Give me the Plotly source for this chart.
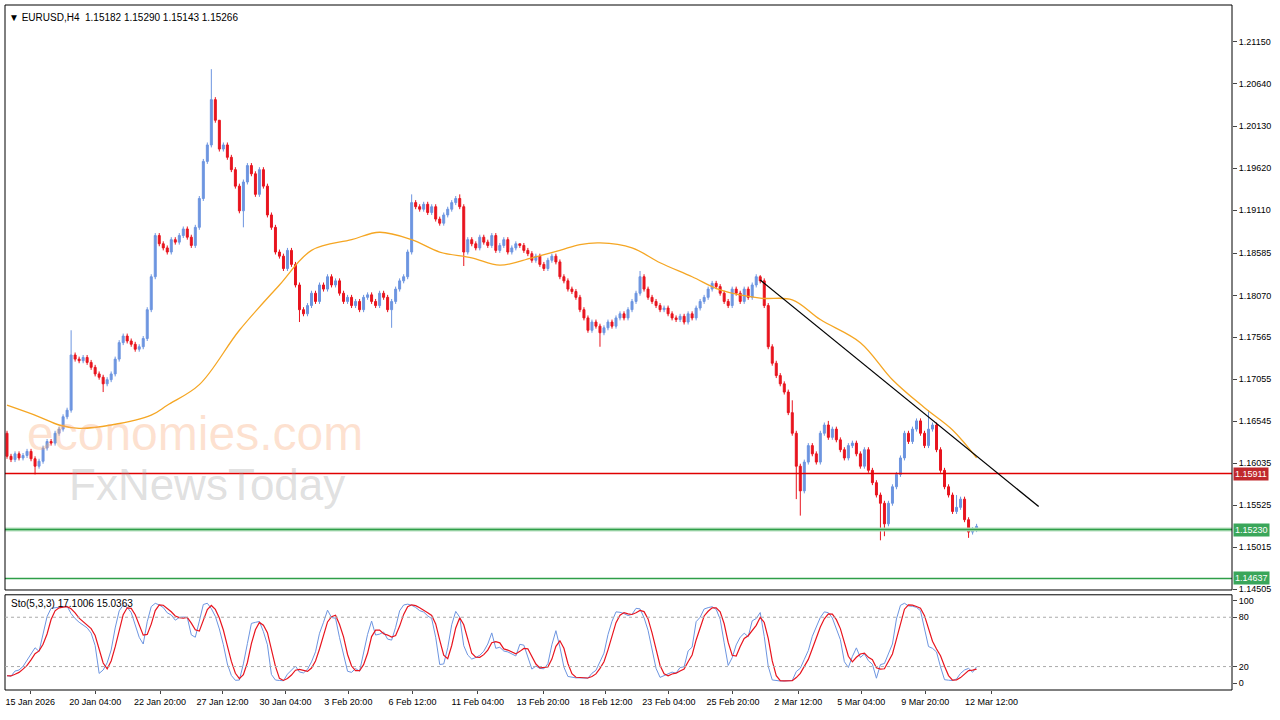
import plotly.graph_objects as go
import numpy as np

closes = [1.1612,1.1608,1.1615,1.1610,1.1613,1.1618,1.1609,1.1600,1.1606,
1.1622,1.1630,1.1628,1.1640,1.1645,1.1660,1.1668,1.1735,
1.1730,1.1728,1.1732,1.1726,1.1720,1.1712,1.1708,1.1700,
1.1705,1.1712,1.1730,1.1750,1.1758,1.1752,
1.1748,1.1742,1.1745,1.1755,1.1790,1.1830,
1.1880,1.1870,
1.1865,1.1860,1.1875,1.1872,1.1880,1.1888,1.1878,1.1868,1.1890,
1.1925,1.1970,1.1990,1.2045,
1.2020,1.1985,1.1990,1.1975,1.1960,1.1940,1.1910,1.1945,
1.1965,1.1955,1.1930,1.1960,1.1940,1.1905,
1.1890,1.1860,1.1855,1.1840,1.1862,1.1845,
1.1820,1.1790,1.1785,
1.1795,1.1810,1.1800,1.1820,1.1815,1.1830,1.1820,1.1825,1.1810,1.1800,1.1805,
1.1795,1.1800,1.1790,1.1805,1.1808,1.1800,1.1795,1.1810,1.1805,1.1790,1.1800,
1.1815,1.1825,1.1830,1.1860,
1.1920,1.1915,1.1912,1.1918,1.1908,1.1915,1.1900,1.1895,1.1905,1.1912,1.1920,1.1925,1.1915,
1.1860,
1.1875,1.1870,1.1865,1.1878,1.1872,1.1868,1.1880,1.1862,1.1868,1.1875,1.1860,1.1865,1.1870,1.1868,
1.1862,1.1858,1.1850,1.1855,1.1845,1.1840,1.1850,1.1855,1.1848,1.1830,
1.1825,1.1815,1.1812,1.1805,1.1790,1.1780,1.1765,1.1775,1.1770,1.1762,
1.1768,1.1775,1.1770,1.1780,1.1785,1.1780,1.1790,1.1800,1.1810,
1.1830,
1.1815,1.1805,1.1800,1.1795,1.1790,1.1792,1.1785,1.1780,1.1778,1.1782,1.1775,1.1785,1.1780,1.1792,1.1800,
1.1805,1.1815,1.1822,1.1818,1.1810,1.1800,1.1795,1.1815,1.1810,1.1800,1.1815,1.1805,1.1820,1.1830,1.1825,
1.1795,
1.1745,1.1725,1.1710,1.1700,1.1690,1.1665,1.1640,1.1600,1.1570,
1.1605,1.1625,1.1615,1.1605,1.1640,1.1650,1.1635,1.1645,1.1632,1.1620,1.1610,1.1625,1.1628,
1.1615,1.1600,1.1620,1.1595,1.1580,1.1565,1.1555,
1.1530,1.1555,1.1575,1.1590,1.1610,1.1640,
1.1630,1.1645,1.1655,1.1640,1.1625,1.1645,1.1650,1.1620,
1.1595,1.1575,1.1565,1.1545,1.1550,1.1560,1.1535,1.1520,1.1523,
1.1527]
first_open = 1.1640
wick_pips = 6
spike_high = {16: 1.1765, 51: 1.2082, 53: 1.2010, 101: 1.1930, 113: 1.1930, 158: 1.1837,
              188: 1.1832, 196: 1.1680, 205: 1.1655, 230: 1.1668, 237: 1.1565, 128: 1.1870}
spike_low = {7: 1.1590, 24: 1.1690, 59: 1.1890, 73: 1.1775, 96: 1.1768, 114: 1.1843,
             148: 1.1745, 198: 1.1540, 218: 1.1510, 219: 1.1515, 240: 1.1513, 197: 1.1560}

ma_idx = [0, 8, 13, 18, 26, 36, 40, 48, 58, 68, 76, 86, 93, 101, 108, 116, 123, 131, 138, 143,
          148, 156, 163, 171, 178, 188, 196, 203, 213, 221, 229, 236, 242]
ma_val = [1.1674, 1.1660, 1.1650, 1.1646, 1.1650, 1.1662, 1.1674, 1.1699, 1.1765, 1.1820, 1.1862,
          1.1875, 1.1884, 1.1875, 1.1860, 1.1853, 1.1844, 1.1853, 1.1862, 1.1869, 1.1871, 1.1865,
          1.1847, 1.1830, 1.1814, 1.1804, 1.1802, 1.1778, 1.1750, 1.1705, 1.1671, 1.1644, 1.1610]

price_ticks = [1.21150, 1.20640, 1.20130, 1.19620, 1.19110, 1.18585, 1.18070, 1.17565,
               1.17055, 1.16545, 1.16035, 1.15525, 1.15015, 1.14505]
x_labels = ["15 Jan 2026", "20 Jan 04:00", "22 Jan 20:00", "27 Jan 12:00", "30 Jan 04:00",
            "3 Feb 20:00", "6 Feb 12:00", "11 Feb 04:00", "13 Feb 20:00", "18 Feb 12:00",
            "23 Feb 04:00", "25 Feb 20:00", "2 Mar 12:00", "5 Mar 04:00", "9 Mar 20:00", "12 Mar 12:00"]
x_label_bars = [5.8, 22, 38.2, 53.8, 69.5, 85.2, 101.2, 117.5, 133.8, 149.5, 165.2, 181.2,
                197.5, 213.2, 229.2, 245.7]
level_red = 1.15911
level_green1 = 1.15230
level_green2 = 1.14637
trend_x = [188, 257.5]
trend_y = [1.1826, 1.1551]

n = len(closes)
x = list(range(n))
opens = [first_open] + closes[:-1]
highs, lows = [], []
for i in range(n):
    h = max(opens[i], closes[i]) + wick_pips * 1e-4 * 0.5
    l = min(opens[i], closes[i]) - wick_pips * 1e-4 * 0.5
    highs.append(spike_high.get(i, h))
    lows.append(spike_low.get(i, l))

H = np.array(highs); L = np.array(lows); C = np.array(closes)
raw_num, raw_den = [], []
for i in range(n):
    a = max(0, i - 4)
    raw_num.append(C[i] - L[a:i+1].min()); raw_den.append(H[a:i+1].max() - L[a:i+1].min())
raw_num = np.array(raw_num); raw_den = np.array(raw_den)
K = []
for i in range(n):
    a = max(0, i - 2)
    K.append(100 * raw_num[a:i+1].sum() / max(raw_den[a:i+1].sum(), 1e-9))
K = np.array(K)
D = np.array([K[max(0, i-2):i+1].mean() for i in range(n)])

xr = [-0.5, 305.75]
fig = go.Figure()
fig.add_trace(go.Scatter(x=xr, y=[level_green1]*2, mode="lines", line=dict(color="#b5dfbd", width=4),
                         showlegend=False, hoverinfo="skip"))
for lv, col in [(level_red, "#e00000"), (level_green1, "#2e9e48"), (level_green2, "#2e9e48")]:
    fig.add_trace(go.Scatter(x=xr, y=[lv]*2, mode="lines", line=dict(color=col, width=1.5),
                             showlegend=False, hoverinfo="skip"))
fig.add_trace(go.Candlestick(x=x, open=opens, high=highs, low=lows, close=closes,
    increasing=dict(line=dict(color="#6d95e0", width=1), fillcolor="#6d95e0"),
    decreasing=dict(line=dict(color="#e8141e", width=1), fillcolor="#e8141e"),
    whiskerwidth=0, showlegend=False, xaxis="x", yaxis="y"))
fig.add_trace(go.Scatter(x=ma_idx, y=ma_val, mode="lines", line=dict(color="#f5a623", width=1.3, shape="spline"),
                         showlegend=False, xaxis="x", yaxis="y", hoverinfo="skip"))
fig.add_trace(go.Scatter(x=trend_x, y=trend_y, mode="lines", line=dict(color="black", width=1.3),
                         showlegend=False, xaxis="x", yaxis="y"))
fig.add_trace(go.Scatter(x=x, y=K, mode="lines", line=dict(color="#6d95e0", width=1), showlegend=False,
                         xaxis="x2", yaxis="y2"))
fig.add_trace(go.Scatter(x=x, y=D, mode="lines", line=dict(color="#e8141e", width=1.2), showlegend=False,
                         xaxis="x2", yaxis="y2"))

fig.update_layout(
    width=1280, height=720, paper_bgcolor="white", plot_bgcolor="white",
    margin=dict(l=5, r=48, t=5, b=30, autoexpand=False),
    font=dict(family="Liberation Sans", size=10, color="black"),
    xaxis=dict(domain=[0, 1], range=xr, showticklabels=False, showgrid=False, zeroline=False,
               rangeslider=dict(visible=False), anchor="y", automargin=False),
    yaxis=dict(domain=[0.146, 1], range=[1.14497, 1.21599], side="right", tickvals=price_ticks,
               ticktext=[f"{v:.5f}" for v in price_ticks], showgrid=False, zeroline=False,
               ticks="outside", ticklen=4, tickfont=dict(size=9), anchor="x", automargin=False),
    xaxis2=dict(domain=[0, 1], range=xr, tickvals=x_label_bars, ticktext=x_labels, showgrid=False,
                zeroline=False, ticks="outside", ticklen=3, anchor="y2", tickfont=dict(size=9),
                automargin=False),
    yaxis2=dict(domain=[0, 0.139], range=[-8.5, 107.3], side="right", tickvals=[0, 20, 80, 100],
                showgrid=False, zeroline=False, ticks="outside", ticklen=4, anchor="x2",
                tickfont=dict(size=9), automargin=False),
)
for y0, y1 in [(0.146, 1), (0, 0.139)]:
    fig.add_shape(type="rect", xref="paper", yref="paper", x0=0, x1=1, y0=y0, y1=y1,
                  line=dict(color="black", width=1))
for lv in [20, 80]:
    fig.add_shape(type="line", xref="x2", yref="y2", x0=xr[0], x1=xr[1], y0=lv, y1=lv,
                  line=dict(color="#aaaaaa", width=1, dash="dot"))
for lv, col in [(level_red, "#c0282d"), (level_green1, "#3aa65a"), (level_green2, "#3aa65a")]:
    fig.add_annotation(xref="paper", yref="y", x=1.001, y=lv, xanchor="left", text=f"{lv:.5f}",
                       showarrow=False, bgcolor=col, font=dict(color="white", size=9), borderpad=1)
fig.add_annotation(xref="paper", yref="paper", x=0.002, y=0.993, xanchor="left", yanchor="top",
                   text="▼ EURUSD,H4  1.15182 1.15290 1.15143 1.15266", showarrow=False,
                   font=dict(size=10))
fig.add_annotation(xref="paper", yref="paper", x=0.003, y=0.137, xanchor="left", yanchor="top",
                   text="Sto(5,3,3) 17.1006 15.0363", showarrow=False, font=dict(size=10))
fig.add_annotation(xref="x", yref="y", x=47, y=1.1640, text="economies.com", showarrow=False,
                   font=dict(size=48, color="rgba(250,170,120,0.35)", family="Liberation Sans"))
fig.add_annotation(xref="x", yref="y", x=50, y=1.1578, text="FxNewsToday", showarrow=False,
                   font=dict(size=44, color="rgba(150,150,150,0.3)", family="Liberation Sans"))
fig.write_html("out.html", config={"displayModeBar": False},
               post_script="document.body.style.margin='0';document.body.style.overflow='hidden';")
